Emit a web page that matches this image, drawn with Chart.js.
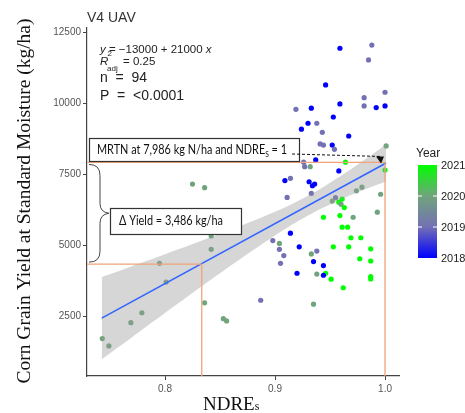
<!DOCTYPE html>
<html>
<head>
<meta charset="utf-8">
<script src="https://cdn.jsdelivr.net/npm/chart.js@4"></script>
<style>
body { margin: 0; background: #fff; }
</style>
</head>
<body>
<canvas id="chart" width="465" height="413"></canvas>
<script>
// plot values: NDRE sufficiency index, yield (kg/ha), season
const ndre = [0.959, 0.988, 0.985, 0.946, 1.000, 0.981, 0.959, 0.981, 0.992, 1.000,
  0.919, 0.933, 0.953, 0.930, 0.938, 0.924, 0.943, 0.967, 0.941, 0.944,
  0.952, 0.954, 1.001, 0.926, 0.937, 0.927, 0.932, 0.964, 1.000, 0.958,
  0.914, 0.909, 0.931, 0.936, 0.934, 0.979, 0.974, 0.933, 0.996, 0.911,
  0.955, 0.961, 0.952, 0.958, 0.960, 0.963, 0.993, 0.944, 0.959, 0.971,
  0.961, 0.966, 0.914, 0.969, 0.978, 0.922, 0.953, 0.967, 0.987, 0.938,
  0.933, 0.908, 0.977, 0.987, 0.935, 0.905, 0.944, 0.920, 0.938, 0.946,
  0.944, 0.987, 0.987, 0.951, 0.962, 0.935, 0.898, 0.904, 0.904, 0.825,
  0.836, 0.842, 0.842, 0.795, 0.801, 0.836, 0.779, 0.769, 0.853, 0.856,
  0.743, 0.749, 0.887];
const yieldKg = [11950, 12060, 11540, 10660, 10400, 10210, 9990, 9920, 9860, 9920,
  9800, 9840, 9530, 9310, 9310, 9100, 8990, 8860, 8580, 8540,
  8540, 8390, 8510, 7940, 8020, 7780, 7780, 7940, 7660, 7630,
  7370, 7290, 7250, 7170, 7110, 7060, 6930, 6840, 6810, 6700,
  6690, 6640, 6570, 6530, 6460, 6340, 6180, 6000, 6060, 6000,
  5650, 5650, 5440, 5280, 5280, 4960, 4960, 4960, 4890, 4810,
  4710, 4650, 4540, 4460, 4440, 4380, 4300, 4030, 4000, 4030,
  3960, 3910, 3830, 3820, 3520, 2940, 5180, 5080, 4870, 7170,
  7040, 5340, 4870, 4380, 3720, 2990, 2640, 2290, 2430, 2350,
  1730, 1470, 3080];
const year = [2018, 2019, 2019, 2018, 2019, 2019, 2018, 2019, 2018, 2018,
  2019, 2018, 2018, 2018, 2019, 2018, 2019, 2018, 2019, 2019,
  2018, 2019, 2020, 2019, 2018, 2019, 2020, 2021, 2021, 2018,
  2019, 2018, 2018, 2018, 2018, 2020, 2020, 2019, 2020, 2019,
  2019, 2021, 2020, 2021, 2020, 2021, 2020, 2021, 2021, 2020,
  2021, 2021, 2018, 2021, 2021, 2018, 2021, 2021, 2021, 2019,
  2020, 2019, 2021, 2021, 2018, 2019, 2018, 2018, 2020, 2021,
  2018, 2021, 2021, 2021, 2021, 2020, 2019, 2020, 2019, 2020,
  2020, 2020, 2020, 2020, 2020, 2020, 2020, 2020, 2020, 2020,
  2020, 2020, 2019];

// linear fit and its confidence band
const fitX = [0.7425, 1.001];
const fitY = [2450, 7910];
const bandX = [0.7425, 0.77, 0.80, 0.85, 0.90, 0.93, 0.95, 0.975, 1.001];
const bandUpper = [3900, 4280, 4700, 5420, 6190, 6760, 7215, 7850, 8560];
const bandLower = [1000, 1780, 2630, 4030, 5360, 6060, 6450, 6880, 7260];

// MRTN guide lines
const mrtnNdre = 1.0;
const mrtnYield = 7930;
const lowNdre = 0.8334;
const lowYield = 4350;

const xTicks = [0.8, 0.9, 1.0];
const yTicks = [2500, 5000, 7500, 10000, 12500];
const legendYears = [2018, 2019, 2020, 2021];
const yearColors = ['#0000FF', '#7470B4', '#70A47C', '#00FF00'];

const xMin = 0.7291, xMax = 1.0127;
const yMin = 413, yMax = 12662;

var points = ndre.map((v, i) => ({x: v, y: yieldKg[i]}));
var pointColors = year.map(y => yearColors[legendYears.indexOf(y)]);

var orange = '#EFA47A';

function xy(xs, ys) {
	return xs.map((v, i) => ({x: v, y: ys[i]}));
}

//draws text pieces one after another on the same line,
//squeezed horizontally to the given width if one is passed (calibri-like look)
function pieces(ctx, x, y, list, width) {
	var total = 0;
	list.forEach(p => { ctx.font = p[1]; total += ctx.measureText(p[0]).width; });
	var sx = width ? width / total : 1;
	ctx.save();
	ctx.translate(x, y);
	ctx.scale(sx, 1);
	var cx = 0;
	list.forEach(p => {
		ctx.font = p[1];
		ctx.fillText(p[0], cx, p[2] || 0);
		cx += ctx.measureText(p[0]).width;
	});
	ctx.restore();
	return x + cx * sx;
}

const overlay = {
	id: 'overlay',
	afterDraw(chart) {
		var ctx = chart.ctx;
		var xs = chart.scales.x, ys = chart.scales.y;
		ctx.save();
		ctx.textBaseline = 'alphabetic';

		// panel title
		ctx.font = '14px "Liberation Sans"';
		ctx.fillStyle = '#333';
		ctx.fillText('V4 UAV', 87, 22);

		// regression stats
		ctx.fillStyle = '#222';
		pieces(ctx, 100, 53, [['y', 'italic 11.5px "Liberation Sans"'], [' = \u221213000 + 21000 ', '11.5px "Liberation Sans"'], ['x', 'italic 11.5px "Liberation Sans"']]);
		ctx.font = 'italic 11.5px "Liberation Sans"';
		ctx.fillText('R', 100, 65);
		ctx.font = '8px "Liberation Sans"';
		ctx.fillText('2', 107.5, 56);
		ctx.fillText('adj', 107, 71);
		ctx.font = '11.5px "Liberation Sans"';
		ctx.fillText('= 0.25', 123, 65);
		ctx.font = '14px "Liberation Sans"';
		ctx.fillText('n  =  94', 100, 82);
		ctx.fillText('P  =  <0.0001', 100, 100);

		// axis titles
		ctx.fillStyle = '#111';
		pieces(ctx, 203, 410, [['NDRE', '19px "Liberation Serif"'], ['s', '12px "Liberation Serif"']]);
		ctx.save();
		ctx.translate(30, 201);
		ctx.rotate(-Math.PI / 2);
		ctx.font = '19.5px "Liberation Serif"';
		ctx.textAlign = 'center';
		ctx.fillText('Corn Grain Yield at Standard Moisture (kg/ha)', 0, 0);
		ctx.restore();

		// MRTN box
		ctx.fillStyle = '#fff';
		ctx.fillRect(89, 138, 210, 23);
		ctx.strokeStyle = '#333';
		ctx.lineWidth = 1.2;
		ctx.strokeRect(89.5, 138.5, 210, 23);
		ctx.fillStyle = '#111';
		pieces(ctx, 97, 154, [['MRTN at 7,986 kg N/ha and NDRE', '13px Lato'], ['S', '8px Lato', 3], [' = 1', '13px Lato']], 190);

		// dashed arrow to the end of the fit
		var tx = xs.getPixelForValue(mrtnNdre), ty = ys.getPixelForValue(mrtnYield);
		ctx.strokeStyle = '#111';
		ctx.lineWidth = 1;
		ctx.setLineDash([3, 2]);
		ctx.beginPath();
		ctx.moveTo(292, 154);
		ctx.lineTo(tx - 5, ty - 6);
		ctx.stroke();
		ctx.setLineDash([]);
		ctx.beginPath();
		ctx.moveTo(tx - 9, ty - 6);
		ctx.lineTo(tx - 1, ty - 6);
		ctx.lineTo(tx - 4, ty + 1);
		ctx.closePath();
		ctx.fill();

		// brace spanning the yield gap
		var top = ys.getPixelForValue(mrtnYield) + 2, bot = ys.getPixelForValue(lowYield) - 2;
		var mid = (top + bot) / 2;
		ctx.strokeStyle = '#444';
		ctx.lineWidth = 1;
		ctx.beginPath();
		ctx.moveTo(89, top);
		ctx.quadraticCurveTo(100, top, 100, top + 11);
		ctx.lineTo(100, mid - 10);
		ctx.quadraticCurveTo(100, mid - 1, 109, mid);
		ctx.quadraticCurveTo(100, mid + 1, 100, mid + 10);
		ctx.lineTo(100, bot - 11);
		ctx.quadraticCurveTo(100, bot, 89, bot);
		ctx.stroke();

		// delta yield box
		ctx.fillStyle = '#fff';
		ctx.fillRect(110, 208, 131, 26);
		ctx.strokeStyle = '#333';
		ctx.lineWidth = 1.2;
		ctx.strokeRect(110.5, 208.5, 131, 26);
		ctx.fillStyle = '#111';
		pieces(ctx, 119, 225, [['\u0394 Yield = 3,486 kg/ha', '13px Lato']], 104);

		// colour bar for Year
		var bx = 418, bw = 19, bTop = 165, bBot = 258;
		var grad = ctx.createLinearGradient(0, bBot, 0, bTop);
		yearColors.forEach((c, i) => grad.addColorStop(i / (yearColors.length - 1), c));
		ctx.fillStyle = grad;
		ctx.fillRect(bx, bTop, bw, bBot - bTop);
		ctx.fillStyle = '#222';
		ctx.font = '12px "Liberation Sans"';
		ctx.fillText('Year', 416, 157);
		ctx.font = '11px "Liberation Sans"';
		ctx.strokeStyle = '#fff';
		legendYears.forEach((yr, i) => {
			var py = bBot - i / (legendYears.length - 1) * (bBot - bTop);
			ctx.fillText(String(yr), 441, py + 4);
			if (i > 0 && i < legendYears.length - 1) {
				ctx.beginPath();
				ctx.moveTo(bx, py); ctx.lineTo(bx + 4, py);
				ctx.moveTo(bx + bw - 4, py); ctx.lineTo(bx + bw, py);
				ctx.stroke();
			}
		});
		ctx.restore();
	}
};

new Chart(document.getElementById('chart'), {
	type: 'scatter',
	data: {
		datasets: [
			{
				// guide lines to MRTN and the reduced yield
				data: [{x: xMin, y: mrtnYield}, {x: mrtnNdre, y: mrtnYield}, {x: mrtnNdre, y: yMin}],
				showLine: true, borderColor: orange, borderWidth: 1.3, pointRadius: 0, order: 0
			},
			{
				data: [{x: xMin, y: lowYield}, {x: lowNdre, y: lowYield}, {x: lowNdre, y: yMin}],
				showLine: true, borderColor: orange, borderWidth: 1.3, pointRadius: 0, order: 0
			},
			{
				data: xy(fitX, fitY),
				showLine: true, borderColor: '#3366FF', borderWidth: 1.6, pointRadius: 0, order: 1
			},
			{
				data: xy(bandX, bandUpper),
				showLine: true, borderWidth: 0, pointRadius: 0, tension: 0.4,
				fill: '+1', backgroundColor: 'rgba(153,153,153,0.4)', order: 2
			},
			{
				data: xy(bandX, bandLower),
				showLine: true, borderWidth: 0, pointRadius: 0, tension: 0.4, order: 2
			},
			{
				data: points,
				pointRadius: 2.6,
				pointBackgroundColor: pointColors,
				pointBorderWidth: 0,
				order: 3
			}
		]
	},
	options: {
		responsive: false,
		animation: false,
		layout: {
			padding: {top: 28, right: 66, left: 0, bottom: 0}
		},
		plugins: {
			legend: {display: false},
			tooltip: {enabled: false}
		},
		scales: {
			x: {
				type: 'linear',
				min: xMin,
				max: xMax,
				afterBuildTicks: s => { s.ticks = xTicks.map(v => ({value: v})); },
				afterFit: s => { s.height = 37; },
				ticks: {
					callback: v => v.toFixed(1),
					color: '#555',
					font: {family: '"Liberation Sans"', size: 10},
					padding: 3
				},
				grid: {drawOnChartArea: false, tickLength: 4, color: '#444'},
				border: {display: true, color: '#444', width: 1.2}
			},
			y: {
				min: yMin,
				max: yMax,
				afterBuildTicks: s => { s.ticks = yTicks.map(v => ({value: v})); },
				afterFit: s => { s.width = 87; },
				ticks: {
					callback: v => String(v),
					color: '#555',
					font: {family: '"Liberation Sans"', size: 10},
					padding: 2
				},
				grid: {drawOnChartArea: false, tickLength: 4, color: '#444'},
				border: {display: true, color: '#444', width: 1.2}
			}
		}
	},
	plugins: [overlay]
});
</script>
</body>
</html>
